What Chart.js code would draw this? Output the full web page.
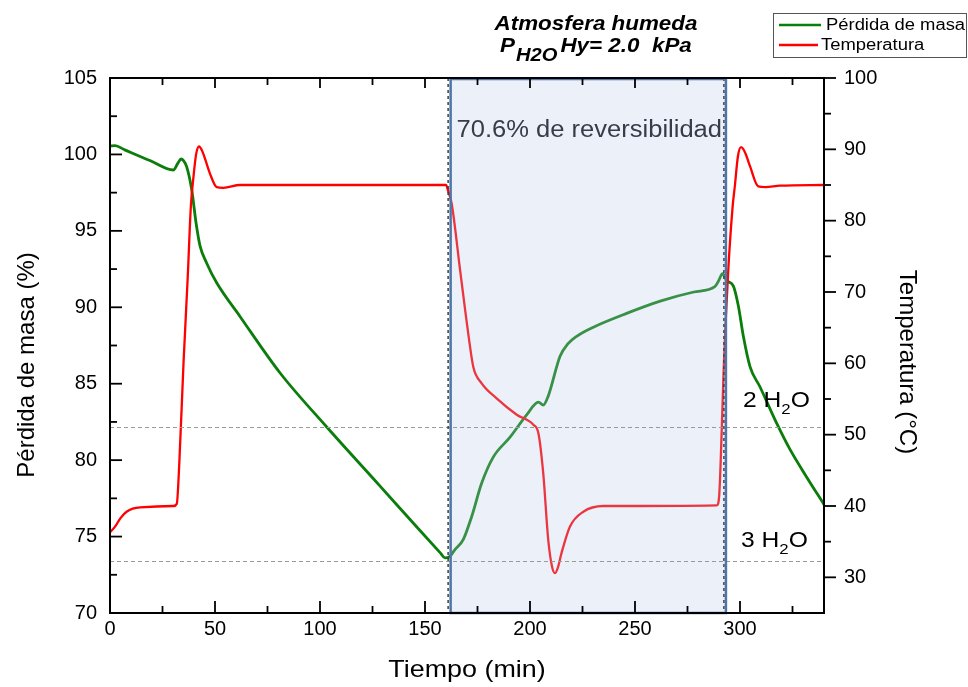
<!DOCTYPE html>
<html>
<head>
<meta charset="utf-8">
<script src="https://cdn.jsdelivr.net/npm/chart.js@4.4.1/dist/chart.umd.min.js"></script>
<style>
  body { margin: 0; background: #fff; }
  canvas { display: block; }
</style>
</head>
<body>
<canvas id="tga" width="968" height="687"></canvas>
<script>
// tiempo (min) y perdida de masa (%)
var massTime = [0, 2.4, 7, 19, 30.2, 32.2, 33.8, 35, 36.5, 38.9, 41, 42.9, 46, 50.8, 61.9, 81, 103, 128.6, 147.6, 157.5, 159.5,
  161.9, 164, 168.2, 172.2, 177, 182.5, 190.5, 198.4, 204, 206.3, 208.7, 214.3, 218, 222.2, 230.2, 246, 262, 278, 288,
  289.7, 291.7, 293.6, 296.8, 299.2, 301.6, 304.8, 309.5, 317.5, 323.8, 331.7, 340];
var massValues = [100.55, 100.57, 100.3, 99.6, 98.98, 99.4, 99.7, 99.6, 99.2, 97.7, 95.5, 94.0, 92.9, 91.6, 89.4, 85.7, 82.2, 78.3, 75.4, 73.9, 73.6,
  73.7, 74.1, 74.8, 76.3, 78.5, 80.2, 81.5, 82.96, 83.8, 83.6, 84.2, 86.8, 87.6, 88.1, 88.7, 89.6, 90.4, 91.0, 91.35,
  91.7, 92.2, 91.75, 91.4, 90.1, 88.1, 86.1, 84.8, 82.4, 80.7, 78.9, 77.1];

// tiempo (min) y temperatura (°C)
var tempTime = [0, 2.4, 5, 7.9, 14.3, 30.2, 31.8, 33, 35, 37, 38.5, 39.7, 41, 42.4, 44, 47.6, 50.8, 54, 61.9,
  160, 161.1, 162.7, 166.7, 171, 173, 177, 184.1, 193.7, 201.6, 204, 206.3, 208.7, 210.5, 211.9, 213.2, 215, 219, 225.4, 235,
  289, 290.1, 291.3, 292.2, 294.4, 296.5, 297.6, 299, 300.5, 302.5, 304.8, 308.7, 312, 319, 340];
var tempValues = [36.3, 37.1, 38.3, 39.2, 39.8, 40.0, 40.3, 46, 60, 72, 82, 86, 89.3, 90.4, 89.7, 86.6, 84.7, 84.6, 85.0,
  85.0, 84.1, 82.4, 73.1, 63.3, 59.5, 57.2, 55.1, 52.8, 51.4, 50.2, 44.6, 35.2, 31.5, 30.6, 31.3, 33.4, 37.1, 39.2, 40.0,
  40.1, 41.5, 50.6, 59, 73, 82, 85, 89, 90.3, 89.5, 87.6, 84.8, 84.7, 84.9, 85.0];

// marcas de los ejes
var xTicks = [0, 50, 100, 150, 200, 250, 300];
var massTicks = [70, 75, 80, 85, 90, 95, 100, 105];
var tempTicks = [30, 40, 50, 60, 70, 80, 90, 100];

// zona de rehidratacion y niveles de hidratos
var regionBounds = [162.2, 293.3];
var hydrateLevels = [82.2, 73.4];
var hydrateLabels = ["2", "3"];

var FONT = "'Liberation Sans', Arial, sans-serif";
var STRETCH = 1.12;

function line(ctx, x1, y1, x2, y2) {
  ctx.beginPath(); ctx.moveTo(x1, y1); ctx.lineTo(x2, y2); ctx.stroke();
}

// texto con el ensanche horizontal de la imagen original
function text(ctx, str, x, y, font, color, sx) {
  ctx.save();
  ctx.font = font;
  ctx.fillStyle = color;
  ctx.textBaseline = "alphabetic";
  ctx.textAlign = "left";
  ctx.translate(x, y);
  ctx.scale(sx, 1);
  ctx.fillText(str, 0, 0);
  var w = ctx.measureText(str).width * sx;
  ctx.restore();
  return w;
}

function textCentered(ctx, str, cx, y, font, color, sx) {
  ctx.save();
  ctx.font = font;
  var w = ctx.measureText(str).width * sx;
  ctx.restore();
  text(ctx, str, cx - w / 2, y, font, color, sx);
}

// "n H2O" con subindice
function hydrate(ctx, n, x, y) {
  var big = "22px " + FONT, small = "15px " + FONT;
  x += text(ctx, n + " H", x, y, big, "#000", STRETCH);
  x += text(ctx, "2", x, y + 7, small, "#000", STRETCH);
  text(ctx, "O", x, y, big, "#000", STRETCH);
}

var decor = {
  id: "decor",
  afterDatasetsDraw: function (chart) {
    var ctx = chart.ctx, a = chart.chartArea;
    var xs = chart.scales.x, ys = chart.scales.y, y2 = chart.scales.y2;
    ctx.save();

    // zona sombreada
    var x0 = xs.getPixelForValue(regionBounds[0]);
    var x1 = xs.getPixelForValue(regionBounds[1]);
    ctx.fillStyle = "rgba(180, 200, 232, 0.27)";
    ctx.fillRect(x0, a.top, x1 - x0, a.bottom - a.top);

    // niveles de hidratos
    ctx.strokeStyle = "#9a9a9a";
    ctx.lineWidth = 1;
    ctx.setLineDash([4, 3]);
    hydrateLevels.forEach(function (v) {
      var py = Math.round(ys.getPixelForValue(v)) + 0.5;
      line(ctx, a.left, py, a.right, py);
    });

    // bordes punteados y marco azul
    ctx.strokeStyle = "#3a3f48";
    ctx.lineWidth = 1.5;
    ctx.setLineDash([3, 3]);
    line(ctx, x0 - 2.5, a.top, x0 - 2.5, a.bottom);
    line(ctx, x1 - 2, a.top, x1 - 2, a.bottom);
    ctx.setLineDash([]);
    ctx.strokeStyle = "#4f76a6";
    ctx.lineWidth = 2.5;
    ctx.strokeRect(x0, a.top + 1, x1 - x0, a.bottom - a.top - 1);

    // marco del grafico
    ctx.strokeStyle = "#000";
    ctx.lineWidth = 2;
    ctx.strokeRect(a.left, a.top, a.right - a.left, a.bottom - a.top);

    // marcas: abajo y arriba hacia dentro
    ctx.lineWidth = 1.8;
    var v, px;
    for (v = 0; v <= 340; v += 25) {
      px = xs.getPixelForValue(v);
      var major = v % 50 === 0;
      line(ctx, px, a.bottom, px, a.bottom - (major ? 12 : 7));
      line(ctx, px, a.top, px, a.top + (major ? 10 : 7));
    }
    // izquierda hacia dentro
    for (v = 70; v <= 105; v += 2.5) {
      px = ys.getPixelForValue(v);
      line(ctx, a.left, px, a.left + (v % 5 === 0 ? 12 : 7), px);
    }
    // derecha hacia fuera
    for (v = 30; v <= 100; v += 5) {
      px = y2.getPixelForValue(v);
      line(ctx, a.right, px, a.right + (v % 10 === 0 ? 12 : 7), px);
    }

    // textos dentro del grafico
    text(ctx, "70.6% de reversibilidad", x0 + 6, a.top + 59, "23px " + FONT, "#363d48", 1.11);
    hydrateLevels.forEach(function (v, i) {
      var py = ys.getPixelForValue(v);
      hydrate(ctx, hydrateLabels[i], i === 0 ? 743 : 741, py - (i === 0 ? 20 : 14));
    });

    // titulos de los ejes
    textCentered(ctx, "Tiempo (min)", (a.left + a.right) / 2, 677, "24px " + FONT, "#000", STRETCH);
    ctx.save();
    ctx.font = "24px " + FONT;
    ctx.fillStyle = "#000";
    ctx.textAlign = "center";
    ctx.translate(34, 365);
    ctx.rotate(-Math.PI / 2);
    ctx.fillText("Pérdida de masa (%)", 0, 0);
    ctx.restore();
    ctx.save();
    ctx.font = "24px " + FONT;
    ctx.fillStyle = "#000";
    ctx.textAlign = "center";
    ctx.translate(900, 362);
    ctx.rotate(Math.PI / 2);
    ctx.fillText("Temperatura (°C)", 0, 0);
    ctx.restore();

    // titulo
    var bi = "italic bold 20px " + FONT;
    textCentered(ctx, "Atmosfera humeda", 596, 30, bi, "#000", STRETCH);
    var tx = 500;
    tx += text(ctx, "P", tx, 52, bi, "#000", STRETCH);
    tx += text(ctx, "H2O", tx + 1, 61, "italic bold 18px " + FONT, "#000", STRETCH) + 4;
    text(ctx, "Hy= 2.0  kPa", tx, 52, bi, "#000", STRETCH);

    // leyenda
    ctx.strokeStyle = "#555";
    ctx.lineWidth = 1;
    ctx.strokeRect(773.5, 13.5, 193, 44);
    var sets = chart.data.datasets;
    var legend = [sets[1], sets[0]];
    var rows = [[25, 821, 826, 30], [45, 818, 821, 50]];
    legend.forEach(function (ds, i) {
      var r = rows[i];
      ctx.strokeStyle = ds.borderColor;
      ctx.lineWidth = 2.5;
      line(ctx, 779, r[0], r[1], r[0]);
      text(ctx, ds.label, r[2], r[3], "16px " + FONT, "#000", 1.15);
    });

    ctx.restore();
  }
};

function pairs(xsArr, ysArr) {
  return xsArr.map(function (t, i) { return { x: t, y: ysArr[i] }; });
}

var ctx = document.getElementById("tga").getContext("2d");
var tgaChart = new Chart(ctx, {
  type: "line",
  data: {
    datasets: [
      {
        label: "Temperatura",
        data: pairs(tempTime, tempValues),
        yAxisID: "y2",
        borderColor: "#ff0000",
        borderWidth: 2.3,
        pointRadius: 0,
        cubicInterpolationMode: "monotone",
        order: 0,
      },
      {
        label: "Pérdida de masa",
        data: pairs(massTime, massValues),
        yAxisID: "y",
        borderColor: "#0a7d0a",
        borderWidth: 2.8,
        pointRadius: 0,
        cubicInterpolationMode: "monotone",
        order: 1,
      },
    ],
  },
  options: {
    responsive: false,
    animation: false,
    layout: { padding: { top: 78, left: 0, right: 0, bottom: 0 } },
    plugins: {
      legend: { display: false },
      tooltip: { enabled: false },
    },
    scales: {
      x: {
        type: "linear",
        min: 0,
        max: 340,
        afterBuildTicks: function (s) { s.ticks = xTicks.map(function (v) { return { value: v }; }); },
        afterFit: function (s) { s.height = 74; },
        grid: { display: false, drawTicks: false },
        border: { display: false },
        ticks: { color: "#000", padding: 4, font: { family: FONT, size: 20 } },
      },
      y: {
        position: "left",
        min: 70,
        max: 105,
        afterBuildTicks: function (s) { s.ticks = massTicks.map(function (v) { return { value: v }; }); },
        afterFit: function (s) { s.width = 110; },
        grid: { display: false, drawTicks: false },
        border: { display: false },
        ticks: { color: "#000", padding: 13, font: { family: FONT, size: 20 } },
      },
      y2: {
        position: "right",
        min: 25,
        max: 100,
        afterBuildTicks: function (s) { s.ticks = tempTicks.map(function (v) { return { value: v }; }); },
        afterFit: function (s) { s.width = 144; },
        grid: { display: false, drawTicks: false },
        border: { display: false },
        ticks: { color: "#000", padding: 20, font: { family: FONT, size: 20 } },
      },
    },
  },
  plugins: [decor],
});
</script>
</body>
</html>
